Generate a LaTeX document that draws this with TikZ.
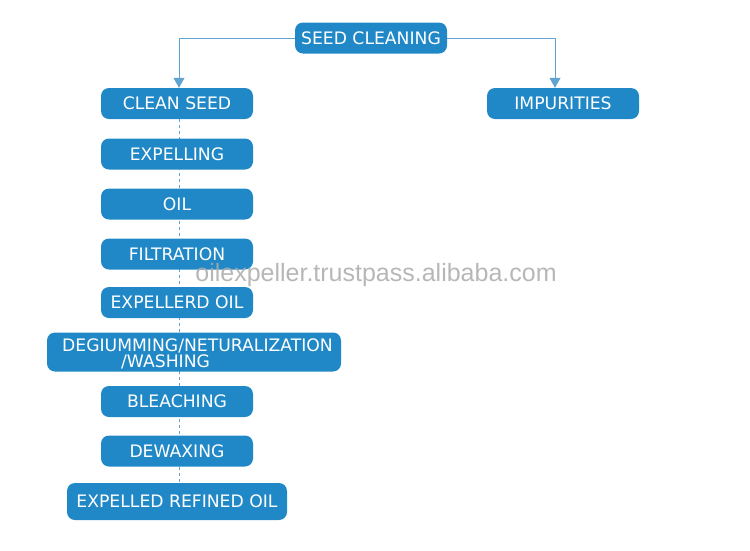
\documentclass[tikz,border=0pt]{standalone}
\usepackage{fontspec}
\setmainfont{DejaVu Sans}
\newfontfamily\markfont{Liberation Sans}
\usetikzlibrary{arrows.meta}
\definecolor{boxblue}{RGB}{33,136,199}
\definecolor{lineblue}{RGB}{96,163,208}
\definecolor{markgray}{RGB}{170,170,170}
\begin{document}
\begin{tikzpicture}[x=1pt, y=-1pt,
		stepbox/.style={rectangle, rounded corners=8pt, fill=boxblue, text=white, minimum width=152pt, minimum height=31pt, inner sep=0pt, font=\fontsize{17.2}{18}\selectfont},
		flowline/.style={lineblue, line width=1pt, -{Triangle[width=11pt,length=10pt]}},
		dashline/.style={lineblue, line width=1pt, dash pattern=on 3pt off 3pt}]
			\useasboundingbox (0,0) rectangle (750,550);
			% top of the chart
			\draw (371,38) node[stepbox] (seed) {SEED CLEANING};
			\draw (177,103.5) node[stepbox] (clean) {CLEAN SEED};
			\draw (563,103.5) node[stepbox] (impur) {IMPURITIES};
			% the dashed column
			\draw[dashline] ([xshift=2pt]clean.south) -- (179,483);
			\draw (177,154) node[stepbox] (expel) {EXPELLING};
			\draw (177,204) node[stepbox] (oil) {OIL};
			\draw (177,254) node[stepbox] (filt) {FILTRATION};
			\draw (177,302.5) node[stepbox] (expoil) {EXPELLERD OIL};
			\draw (194,352) node[stepbox, minimum width=294pt, minimum height=39pt] (degum) {};
			\draw (62,354) node[anchor=west, text=white, align=left, inner sep=0pt, font=\fontsize{17.2}{16}\selectfont] (degumtext) {DEGIUMMING/NETURALIZATION\\\hspace{59pt}/WASHING};
			\draw (177,401.5) node[stepbox] (bleach) {BLEACHING};
			\draw (177,451) node[stepbox] (dewax) {DEWAXING};
			\draw (177,501.5) node[stepbox, minimum width=220pt, minimum height=37pt] (refined) {EXPELLED REFINED OIL};
			% connectors
			\draw[flowline] (seed.west) -| ([xshift=2pt]clean.north);
			\draw[flowline] (seed.east) -| ([xshift=-8pt]impur.north);
			% watermark
			\draw (376,275) node[text=markgray, opacity=0.85, font=\markfont\fontsize{25}{25}\selectfont] (mark) {oilexpeller.trustpass.alibaba.com};
		\end{tikzpicture}
\end{document}
